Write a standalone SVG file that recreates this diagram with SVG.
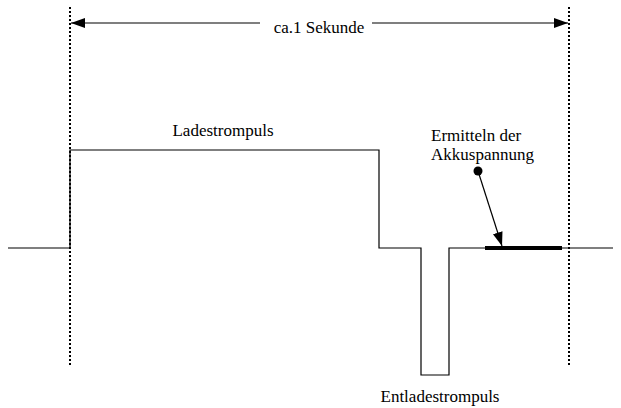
<svg xmlns="http://www.w3.org/2000/svg" width="621" height="408" viewBox="0 0 621 408">
<style>
text{font-family:"Liberation Serif","Times New Roman",serif;font-size:17px;fill:#000}
.sig{fill:none;stroke:#000;stroke-width:1.2}
.dot{fill:none;stroke:#000;stroke-width:2;stroke-dasharray:2 2}
.ln{fill:none;stroke:#000;stroke-width:1.2}
</style>
<defs>
<marker id="ah" markerWidth="14" markerHeight="10" refX="14" refY="5" orient="auto" markerUnits="userSpaceOnUse">
<path d="M0,0 L14,5 L0,10 Z" fill="#000"/>
</marker>
</defs>
<g id="markers">
<line class="dot" x1="70" y1="7" x2="70" y2="366"/>
<line class="dot" x1="569" y1="7" x2="569" y2="366"/>
</g>
<g id="signal">
<path class="sig" d="M8,248 H70 V150 H379 V248 H421 V375 H449 V248 H613"/>
<line x1="485" y1="248" x2="562" y2="248" stroke="#000" stroke-width="4"/>
</g>
<g id="connectors">
<line class="ln" x1="260" y1="23" x2="71" y2="23" marker-end="url(#ah)"/>
<line class="ln" x1="372" y1="23" x2="568" y2="23" marker-end="url(#ah)"/>
<circle cx="478" cy="171" r="4.5" fill="#000"/>
<line class="ln" x1="478" y1="171" x2="502" y2="246" marker-end="url(#ah)"/>
</g>
<g id="labels">
<text x="319" y="33" text-anchor="middle">ca.1 Sekunde</text>
<text x="223" y="136" text-anchor="middle">Ladestrompuls</text>
<text x="431" y="141">Ermitteln der</text>
<text x="431" y="160">Akkuspannung</text>
<text x="440" y="402" text-anchor="middle">Entladestrompuls</text>
</g>
</svg>
